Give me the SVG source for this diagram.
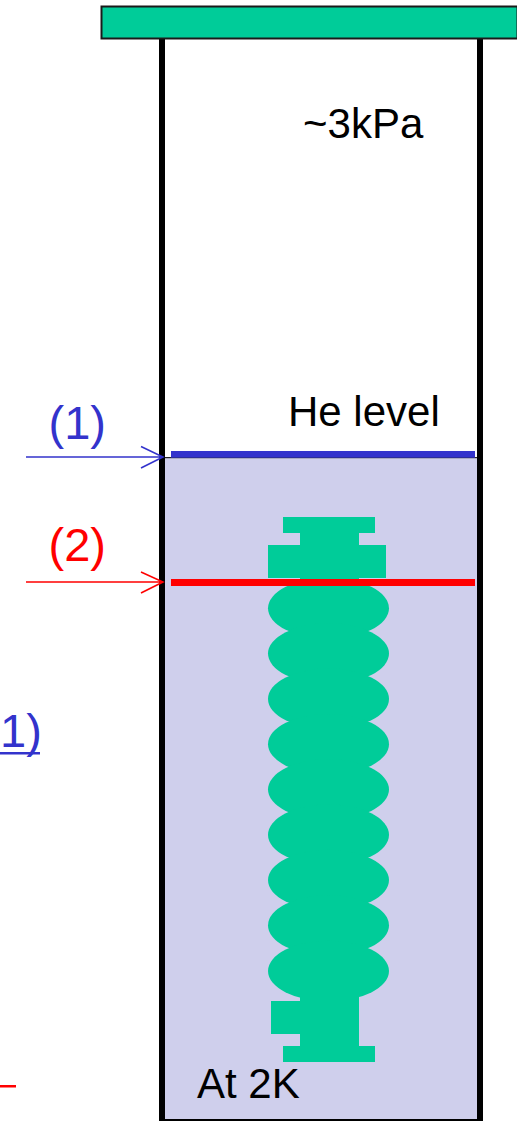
<svg xmlns="http://www.w3.org/2000/svg" width="517" height="1121" viewBox="0 0 517 1121">
<style>
text{font-family:"Liberation Sans",Arial,sans-serif;font-size:42px}
text.big{font-size:47px}
.g{fill:#00cc99}
.c{fill:#00cc99;rx:60.5px;ry:30.3px}
.k{fill:#000}
.b{fill:#3333cc}
.r{fill:#ff0000}
.arrow{fill:none;stroke-width:1.6}
</style>
<rect width="517" height="1121" fill="#fff"/>
<g id="helium-bath"><rect x="165" y="457" width="313" height="662" fill="#cfcfec"/><rect x="165" y="457" width="313" height="1.2" fill="#222"/></g>
<g id="cavity">
<rect class="g" x="283" y="517" width="92" height="16"/>
<rect class="g" x="300" y="533" width="59" height="50"/>
<rect class="g" x="268" y="545" width="118" height="33"/>
<ellipse class="c" cx="328.500" cy="608.300" rx="60.500" ry="30.300"/>
<ellipse class="c" cx="328.500" cy="653.600" rx="60.500" ry="30.300"/>
<ellipse class="c" cx="328.500" cy="698.900" rx="60.500" ry="30.300"/>
<ellipse class="c" cx="328.500" cy="744.200" rx="60.500" ry="30.300"/>
<ellipse class="c" cx="328.500" cy="789.500" rx="60.500" ry="30.300"/>
<ellipse class="c" cx="328.500" cy="834.800" rx="60.500" ry="30.300"/>
<ellipse class="c" cx="328.500" cy="880.100" rx="60.500" ry="30.300"/>
<ellipse class="c" cx="328.500" cy="925.400" rx="60.500" ry="30.300"/>
<ellipse class="c" cx="328.500" cy="971" rx="60.500" ry="30.300"/>
<rect class="g" x="300" y="990" width="59" height="60"/>
<rect class="g" x="271" y="1001" width="30" height="33"/>
<rect class="g" x="283" y="1046" width="92" height="16"/>
</g>
<g id="cryostat">
<rect class="k" x="159" y="38" width="6" height="1083"/>
<rect class="k" x="477" y="38" width="6" height="1083"/>
<rect class="k" x="159" y="1119" width="324" height="2"/>
</g>
<g id="top-plate"><rect x="101.500" y="6.500" width="416" height="32" fill="#00cc99" stroke="#1a1a1a" stroke-width="2"/></g>
<g id="levels">
<rect class="b" x="171" y="451" width="304" height="6.700"/>
<rect class="r" x="171" y="579" width="304" height="7"/>
</g>
<g id="connectors">
<path class="arrow" stroke="#3333cc" d="M26 457H163M141 446.500L163 457L141 468"/>
<path class="arrow" stroke="#ff0000" d="M26 582H163M141 572L163 582L141 593"/>
</g>
<g id="labels">
<text x="303" y="138">~3kPa</text>
<text x="288" y="426">He level</text>
<text x="197" y="1098">At 2K</text>
<text class="b big" x="48.500" y="439">(1)</text>
<text class="r big" x="48.500" y="561">(2)</text>
<text class="b big" x="0" y="747">1)</text>
<rect class="b" x="0" y="752" width="40" height="2.500"/>
<rect class="r" x="0" y="1085" width="16" height="2.500"/>
</g>
</svg>
